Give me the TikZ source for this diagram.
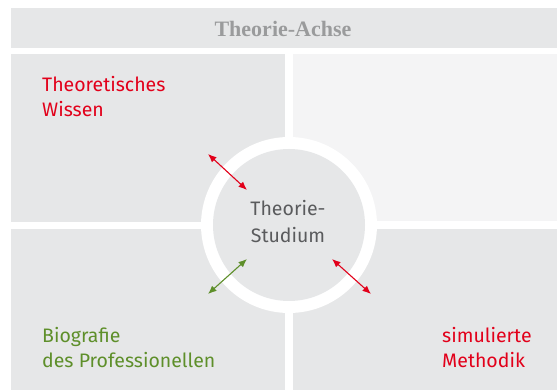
\documentclass[tikz,border=0pt]{standalone}
\usepackage{fontspec}
\setmainfont{Fira Sans}
\newfontfamily\headfont{Liberation Serif}
\usetikzlibrary{arrows.meta}
\definecolor{panel}{HTML}{E6E7E8}
\definecolor{panellight}{HTML}{F4F4F5}
\definecolor{headtext}{HTML}{9A9B9C}
\definecolor{bodytext}{HTML}{5A5B5D}
\definecolor{accred}{HTML}{E2001A}
\definecolor{accgreen}{HTML}{5E8F2A}
\tikzset{
  panelbox/.style={fill=panel, draw=none},
  lbl/.style={align=left, anchor=north west, inner sep=0pt, font=\fontsize{19.5}{25.5}\selectfont},
  dbl/.style={{Latex[length=8.5pt,width=7pt]}-{Latex[length=8.5pt,width=7pt]}, line width=1.1pt},
}
\begin{document}
\begin{tikzpicture}[x=1pt,y=-1pt]
\useasboundingbox (0,0) rectangle (558,390);
\fill[white] (0,0) rectangle (558,390);
% header
\node[panelbox, minimum width=546pt, minimum height=40pt, inner sep=0pt] (head) at (284,28) {};
\node[font=\headfont\bfseries\fontsize{22}{26}\selectfont, text=headtext] (headlbl) at (283,29) {Theorie-Achse};
% quadrants
\node[panelbox, minimum width=274pt, minimum height=168pt, inner sep=0pt, anchor=north west] (tl) at (11,54) {};
\node[fill=panellight, minimum width=264pt, minimum height=167pt, inner sep=0pt, anchor=north west] (tr) at (293,54) {};
\node[panelbox, minimum width=274pt, minimum height=161pt, inner sep=0pt, anchor=north west] (bl) at (11,229) {};
\node[panelbox, minimum width=264pt, minimum height=161pt, inner sep=0pt, anchor=north west] (br) at (293,229) {};
% central circle
\node[circle, fill=white, minimum size=176pt, inner sep=0pt] (ring) at (289,225) {};
\node[circle, fill=panel, minimum size=152pt, inner sep=0pt] (core) at (289,225) {};
\node[align=center, text=bodytext, inner sep=0pt,
      font=\fontsize{19.5}{27}\selectfont] (corelbl) at (288,222) {Theorie-\\Studium};
% labels
\node[lbl, text=accred] (tw) at (42,76) {Theoretisches\\Wissen};
\node[lbl, text=accgreen] (bio) at (42,327) {Biografie\\des Professionellen};
\node[lbl, text=accred] (sim) at (442,327) {simulierte\\Methodik};
% arrows
\coordinate (a1) at (208,154);
\coordinate (a2) at (247,190);
\coordinate (g1) at (247,259);
\coordinate (g2) at (208,294);
\coordinate (r1) at (332,259);
\coordinate (r2) at (371,294);
\draw[dbl, accred] (a1) -- (a2);
\draw[dbl, accgreen] (g1) -- (g2);
\draw[dbl, accred] (r1) -- (r2);
\end{tikzpicture}
\end{document}
